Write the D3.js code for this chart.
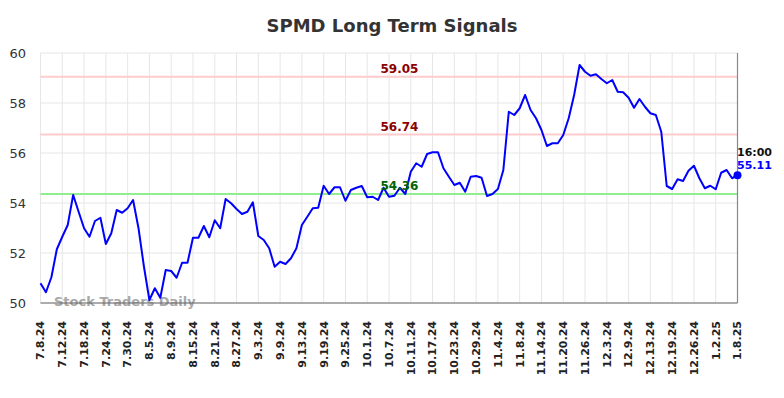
<!DOCTYPE html>
<html lang="en">
<head>
    <meta charset="UTF-8">
    <title>SPMD Long Term Signals</title>
    <script src="https://d3js.org/d3.v7.min.js"></script>
    <style>
        body { margin: 0; background: #fff; }
        svg { display: block; font-family: "DejaVu Sans", sans-serif; }
    </style>
</head>
<body>
    <div id="chart"></div>
    <script>
        // closing prices, one per trading day (7.8.24 .. 1.8.25)
        const prices = [
            50.79, 50.43, 51.03, 52.15, 52.65, 53.12, 54.32, 53.65, 52.99, 52.65,
            53.28, 53.41, 52.36, 52.79, 53.72, 53.61, 53.79, 54.12, 52.99, 51.45,
            50.12, 50.59, 50.21, 51.32, 51.28, 51.01, 51.61, 51.61, 52.61, 52.61,
            53.08, 52.63, 53.31, 52.99, 54.16, 53.99, 53.76, 53.56, 53.65, 54.03,
            52.68, 52.52, 52.19, 51.45, 51.65, 51.56, 51.79, 52.19, 53.12, 53.45,
            53.79, 53.81, 54.69, 54.36, 54.63, 54.63, 54.09, 54.52, 54.61, 54.68,
            54.23, 54.25, 54.12, 54.61, 54.25, 54.29, 54.61, 54.36, 55.25, 55.59,
            55.45, 55.96, 56.03, 56.03, 55.39, 55.05, 54.72, 54.81, 54.45, 55.05,
            55.08, 55.01, 54.28, 54.36, 54.56, 55.32, 57.65, 57.52, 57.79, 58.32,
            57.72, 57.39, 56.92, 56.28, 56.39, 56.39, 56.72, 57.39, 58.32, 59.52,
            59.25, 59.09, 59.15, 58.96, 58.79, 58.92, 58.45, 58.43, 58.21, 57.81,
            58.16, 57.85, 57.59, 57.52, 56.85, 54.68, 54.56, 54.95, 54.88, 55.29,
            55.49, 54.99, 54.59, 54.69, 54.55, 55.21, 55.32, 54.99, 55.11
        ];

        // one label every 4 trading days
        const tickLabels = [
            '7.8.24', '7.12.24', '7.18.24', '7.24.24', '7.30.24', '8.5.24', '8.9.24',
            '8.15.24', '8.21.24', '8.27.24', '9.3.24', '9.9.24', '9.13.24', '9.19.24',
            '9.25.24', '10.1.24', '10.7.24', '10.11.24', '10.17.24', '10.23.24',
            '10.29.24', '11.4.24', '11.8.24', '11.14.24', '11.20.24', '11.26.24',
            '12.3.24', '12.9.24', '12.13.24', '12.19.24', '12.26.24', '1.2.25', '1.8.25'
        ];
        const tickStep = 4;

        const yTicks = [50, 52, 54, 56, 58, 60];

        const resistance = [59.05, 56.74];
        const support = [54.36];

        const lastTime = '16:00';

        const width = 784;
        const height = 398;
        const margin = { top: 53, right: 46.5, bottom: 95, left: 40.5 };

        const svg = d3.select('#chart')
            .append('svg')
            .attr('width', width)
            .attr('height', height);

        const x = d3.scaleLinear()
            .domain([0, prices.length - 1])
            .range([margin.left, width - margin.right]);

        const y = d3.scaleLinear()
            .domain([50, 60])
            .range([height - margin.bottom, margin.top]);

        // title
        svg.append('text')
            .attr('x', width / 2)
            .attr('y', 32)
            .attr('text-anchor', 'middle')
            .attr('font-size', 18)
            .attr('font-weight', 'bold')
            .attr('fill', '#333')
            .text('SPMD Long Term Signals');

        // grid
        const tickIdx = tickLabels.map((d, i) => i * tickStep);

        svg.append('g')
            .selectAll('line')
            .data(yTicks)
            .join('line')
            .attr('x1', margin.left)
            .attr('x2', width - margin.right)
            .attr('y1', d => y(d))
            .attr('y2', d => y(d))
            .attr('stroke', '#e6e6e6')
            .attr('stroke-width', 1);

        svg.append('g')
            .selectAll('line')
            .data(tickIdx)
            .join('line')
            .attr('x1', d => x(d))
            .attr('x2', d => x(d))
            .attr('y1', margin.top)
            .attr('y2', height - margin.bottom)
            .attr('stroke', '#e6e6e6')
            .attr('stroke-width', 1);

        // y labels
        svg.append('g')
            .selectAll('text')
            .data(yTicks)
            .join('text')
            .attr('x', 26)
            .attr('y', d => y(d))
            .attr('dy', '0.35em')
            .attr('text-anchor', 'end')
            .attr('font-size', 13)
            .attr('fill', '#333')
            .text(d => d);

        // x labels, rotated
        svg.append('g')
            .selectAll('text')
            .data(tickLabels)
            .join('text')
            .attr('transform', (d, i) => `translate(${x(i * tickStep)},321) rotate(-90)`)
            .attr('dy', '0.35em')
            .attr('text-anchor', 'end')
            .attr('font-size', 11)
            .attr('font-weight', 'bold')
            .attr('fill', '#222')
            .text(d => d);

        // signal lines
        const levels = resistance.map(v => ({ v, line: '#ffcccc', text: '#8b0000' }))
            .concat(support.map(v => ({ v, line: '#90ee90', text: '#006400' })));

        svg.append('g')
            .selectAll('line')
            .data(levels)
            .join('line')
            .attr('x1', margin.left)
            .attr('x2', width - margin.right)
            .attr('y1', d => y(d.v))
            .attr('y2', d => y(d.v))
            .attr('stroke', d => d.line)
            .attr('stroke-width', 2);

        // watermark
        svg.append('text')
            .attr('x', 54)
            .attr('y', 305.5)
            .attr('font-size', 13)
            .attr('font-weight', 'bold')
            .attr('fill', '#999')
            .attr('opacity', 0.85)
            .text('Stock Traders Daily');

        // axes frame
        svg.append('line')
            .attr('x1', margin.left)
            .attr('x2', width - margin.right)
            .attr('y1', y(50))
            .attr('y2', y(50))
            .attr('stroke', '#666')
            .attr('stroke-width', 1.2);

        svg.append('line')
            .attr('x1', width - margin.right)
            .attr('x2', width - margin.right)
            .attr('y1', margin.top)
            .attr('y2', y(50))
            .attr('stroke', '#888')
            .attr('stroke-width', 1.2);

        // price line
        const line = d3.line()
            .x((d, i) => x(i))
            .y(d => y(d));

        svg.append('path')
            .datum(prices)
            .attr('d', line)
            .attr('fill', 'none')
            .attr('stroke', '#0000ff')
            .attr('stroke-width', 2)
            .attr('stroke-linejoin', 'round');

        // level labels
        svg.append('g')
            .selectAll('text')
            .data(levels)
            .join('text')
            .attr('x', 399.5)
            .attr('y', d => y(d.v) - 4)
            .attr('text-anchor', 'middle')
            .attr('font-size', 12)
            .attr('font-weight', 'bold')
            .attr('fill', d => d.text)
            .text(d => d.v.toFixed(2));

        // last point
        const lastI = prices.length - 1;
        const last = prices[lastI];

        svg.append('circle')
            .attr('cx', x(lastI))
            .attr('cy', y(last))
            .attr('r', 4)
            .attr('fill', '#0000ff');

        svg.append('text')
            .attr('x', x(lastI) - 0.5)
            .attr('y', y(last) - 19)
            .attr('font-size', 11)
            .attr('font-weight', 'bold')
            .attr('fill', '#111')
            .text(lastTime);

        svg.append('text')
            .attr('x', x(lastI) - 0.5)
            .attr('y', y(last) - 6)
            .attr('font-size', 11)
            .attr('font-weight', 'bold')
            .attr('fill', '#0000ff')
            .text(last.toFixed(2));
    </script>
</body>
</html>
